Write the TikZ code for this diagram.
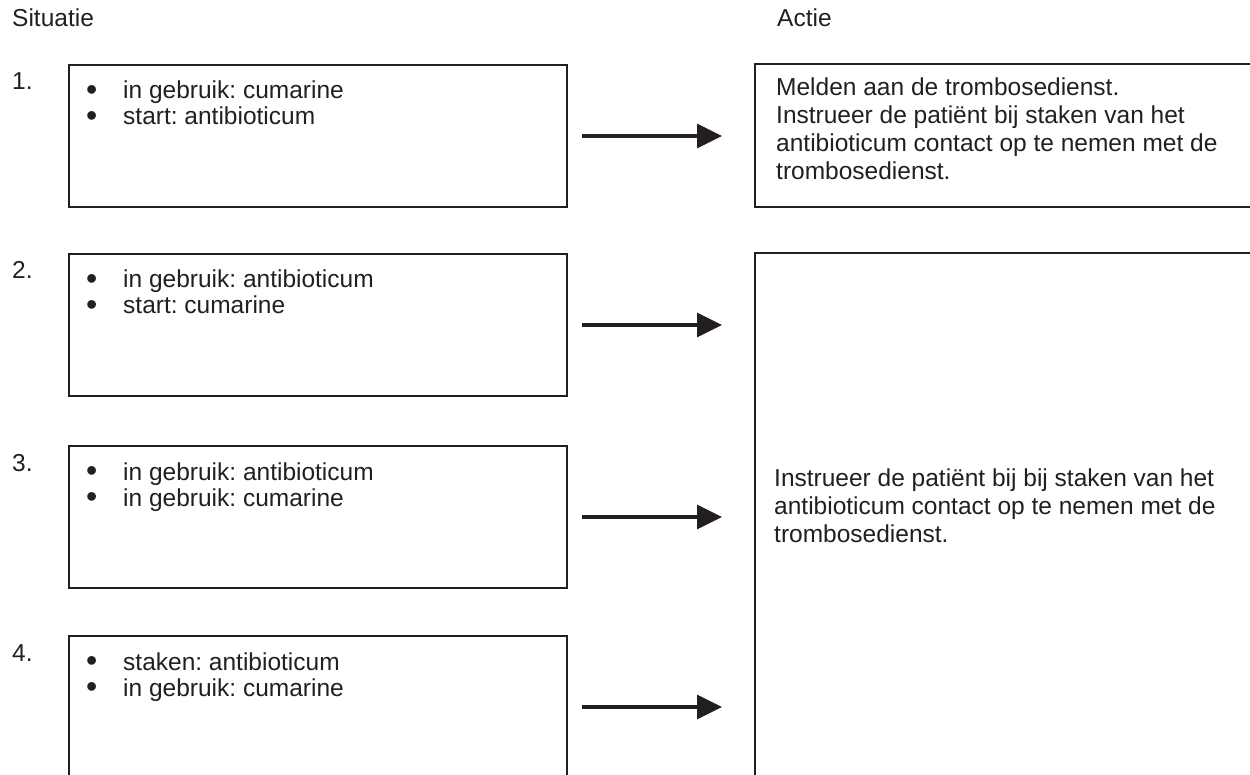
\documentclass[tikz,border=0pt]{standalone}
\usepackage{fontspec}
\setmainfont{Liberation Sans}
\usetikzlibrary{arrows.meta}
\definecolor{ink}{HTML}{231F20}
\newcommand{\bul}{\makebox[37pt][l]{\smash{\raisebox{-1.5pt}{\fontsize{32}{24}\selectfont\textbullet}}}}
\frenchspacing

\begin{document}
\begin{tikzpicture}[x=1pt, y=-1pt,
    every node/.style={text=ink, inner sep=0pt, font=\fontsize{24.5}{28}\selectfont},
    sitbox/.style={draw=ink, line width=2pt, anchor=north west, minimum width=498pt, minimum height=142pt},
    actbox/.style={draw=ink, line width=2pt, anchor=north west, minimum width=600pt},
    listtext/.style={anchor=base west, align=left, font=\fontsize{24.5}{26}\selectfont},
    acttext/.style={anchor=base west, align=left},
    pijl/.style={draw=ink, line width=3.5pt, -{Triangle[length=25pt, width=24pt]}, shorten <=14pt, shorten >=32pt}]
        \useasboundingbox (0,0) rectangle (1250,775);
        \clip (0,0) rectangle (1250,775);
        % Column headers
        \node (hsit) [anchor=base west] at (12,27) {Situatie};
        \node (hact) [anchor=base west] at (777,27) {Actie};

        % Situation boxes
        \node (sit1) [sitbox] at (68,64) {};
        \node (sit2) [sitbox] at (68,253) {};
        \node (sit3) [sitbox] at (68,445) {};
        \node (sit4) [sitbox] at (68,635) {};

        % Numbers
        \node (num1) [anchor=base west] at (12,90) {1.};
        \node (num2) [anchor=base west] at (12,279) {2.};
        \node (num3) [anchor=base west] at (12,471) {3.};
        \node (num4) [anchor=base west] at (12,661) {4.};

        % Bullet lists (anchored at the baseline of the last line)
        \node (lst1) [listtext] at (86,125)
            {\bul in gebruik: cumarine\\ \bul start: antibioticum};
        \node (lst2) [listtext] at (86,314)
            {\bul in gebruik: antibioticum\\ \bul start: cumarine};
        \node (lst3) [listtext] at (86,506)
            {\bul in gebruik: antibioticum\\ \bul in gebruik: cumarine};
        \node (lst4) [listtext] at (86,696)
            {\bul staken: antibioticum\\ \bul in gebruik: cumarine};

        % Action boxes
        \node (act1) [actbox, minimum height=143pt] at (754,63) {};
        \node (act2) [actbox, minimum height=600pt] at (754,252) {};

        % Action texts
        \node (txt1) [acttext] at (776,180)
            {Melden aan de trombosedienst.\\ Instrueer de patiënt bij staken van het\\
             antibioticum contact op te nemen met de\\ trombosedienst.};
        \node (txt2) [acttext] at (774,542)
            {Instrueer de patiënt bij bij staken van het\\
             antibioticum contact op te nemen met de\\ trombosedienst.};

        % Arrows from situation to action
        \path[pijl] (sit1.east) -- (sit1.east -| act1.west);
        \path[pijl] (sit2.east) -- (sit2.east -| act2.west);
        \path[pijl] (sit3.east) -- (sit3.east -| act2.west);
        \path[pijl] (sit4.east) -- (sit4.east -| act2.west);
    \end{tikzpicture}
\end{document}
